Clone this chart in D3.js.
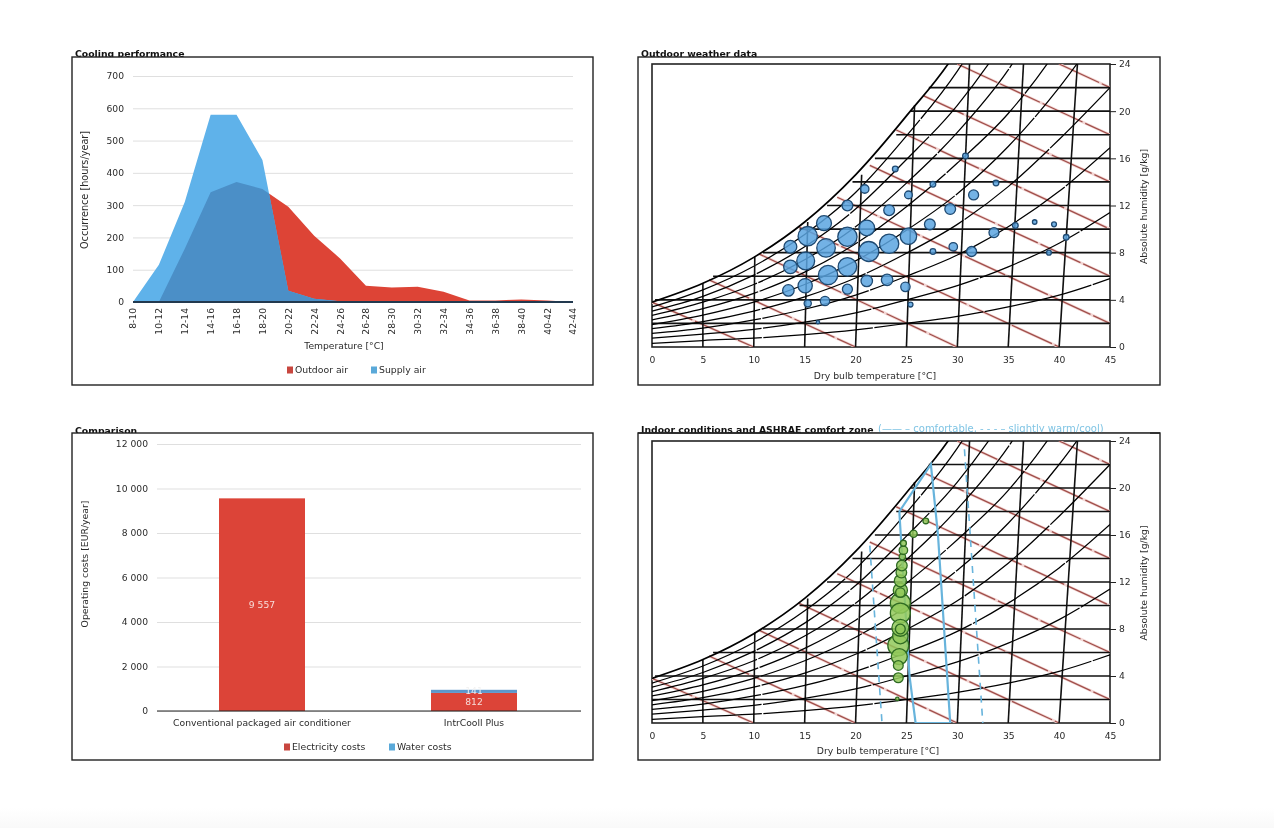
<!DOCTYPE html>
<html>
<head>
<meta charset="utf-8">
<script src="https://d3js.org/d3.v7.min.js"></script>
<style>
    html, body { margin: 0; padding: 0; background: #fff; }
    #fade { position: absolute; left: 0; top: 808px; width: 1274px; height: 20px;
            background: linear-gradient(#ffffff, #f9f9f9); }
    svg { position: absolute; left: 0; top: 0; filter: blur(0.55px); }
    text { font-family: "DejaVu Sans", sans-serif; font-size: 9.2px; fill: #2b2b2b; }
    .title { font-weight: bold; font-size: 9.3px; fill: #111; text-decoration: underline; }
    .frame { fill: #fff; stroke: #222; stroke-width: 1.4; }
    .grid line { stroke: #dfdfdf; }
    .grid path { display: none; }
</style>
</head>
<body>
<div id="fade"></div>
<svg id="chart" width="1274" height="828"></svg>
<script>
var svg = d3.select("#chart");

// Cooling performance
var tempBins = ["8-10", "10-12", "12-14", "14-16", "16-18", "18-20", "20-22", "22-24", "24-26",
    "26-28", "28-30", "30-32", "32-34", "34-36", "36-38", "38-40", "40-42", "42-44"];
var outdoorAir = [0, 0, 165, 340, 372, 350, 295, 205, 135, 50, 45, 47, 32, 5, 5, 8, 5, 0];
var supplyAir = [0, 115, 310, 580, 580, 440, 35, 10, 2, 0, 0, 0, 0, 0, 0, 0, 0, 0];

// Comparison
var costs = [
    {name: "Conventional packaged air conditioner", electricity: 9557, water: 0},
    {name: "IntrCooll Plus", electricity: 812, water: 141}
];

// Psychrometric chart lines, absolute humidity at T = 0, 5, 10 ... 45
var chartTemps = [0, 5, 10, 15, 20, 25, 30, 35, 40, 45];
var saturation = [3.8, 5.4, 7.6, 10.6, 14.6, 19.6, 25.2, 34, 44, 56];
var rhCurves = [
    [3.4, 4.85, 6.85, 9.55, 13.1, 17.9, 23.4, 30.6, 39.6, 50.4],
    [3.05, 4.3, 6.1, 8.5, 11.7, 15.9, 20.5, 26.5, 34, 44],
    [2.67, 3.8, 5.3, 7.4, 10.2, 13.9, 18.2, 23.5, 30.8, 39],
    [2.3, 3.25, 4.55, 6.35, 8.75, 11.9, 15.6, 19.8, 25.5, 33],
    [1.9, 2.7, 3.8, 5.3, 7.3, 9.9, 13, 17, 22, 28],
    [1.55, 2.15, 3.05, 4.25, 5.85, 7.95, 10.4, 13.6, 17.6, 22],
    [1.15, 1.6, 2.3, 3.2, 4.4, 6, 7.8, 10.2, 13.2, 16.9],
    [0.75, 1.1, 1.5, 2.1, 2.9, 4, 5.2, 6.8, 8.8, 11.4],
    [0.3, 0.55, 0.75, 1.05, 1.45, 2, 2.6, 3.4, 4.4, 5.8]
];
// humidity level and the temperature where it leaves the saturation curve
var humidityLines = [[2, 0], [4, 0.3], [6, 6], [8, 10.9], [10, 14.5], [12, 17.2], [14, 19.7],
    [16, 21.9], [18, 24], [20, 25.4], [22, 27.2]];
// [T at w=0, T at the top end, w at the top end]
var isotherms = [[5, 5, 5.4], [10, 10.1, 7.7], [15, 15.3, 10.6], [20, 20.6, 14.6],
    [25, 25.8, 20.5], [30, 31.2, 24], [35, 36.5, 24], [40, 41.8, 24]];
// red lines, [T start, w start, T end, w end]
var enthalpyLines = [[0, 3.8, 10, 0], [5.6, 5.7, 20, 0], [10.5, 7.9, 30, 0], [14.4, 10.2, 40, 0],
    [18.2, 12.7, 45, 2], [21.4, 15.4, 45, 6], [24, 18.4, 45, 10], [26.7, 21.3, 45, 14],
    [30, 24, 45, 18], [40, 24, 45, 22]];

// [T, w, hours]
var outdoorPoints = [[23.9, 15.1, 8], [30.8, 16.2, 8], [20.9, 13.4, 18], [25.2, 12.9, 15], [27.6, 13.8, 8],
    [33.8, 13.9, 8], [31.6, 12.9, 25], [19.2, 12, 29], [23.3, 11.6, 29], [29.3, 11.7, 29],
    [37.6, 10.6, 5], [39.5, 10.4, 6], [35.7, 10.3, 8], [16.9, 10.5, 56], [21.1, 10.1, 62],
    [27.3, 10.4, 29], [33.6, 9.7, 25], [40.7, 9.3, 8], [15.3, 9.4, 93], [19.2, 9.35, 93],
    [25.2, 9.4, 67], [13.6, 8.5, 41], [17.1, 8.4, 86], [23.3, 8.75, 93], [29.6, 8.5, 18],
    [27.6, 8.1, 8], [31.4, 8.1, 25], [39, 8, 6], [21.3, 8.1, 100], [15.1, 7.3, 80],
    [13.6, 6.8, 46], [19.2, 6.8, 86], [17.3, 6.1, 93], [21.1, 5.6, 33], [23.1, 5.7, 33],
    [24.9, 5.1, 22], [15.05, 5.2, 51], [13.4, 4.8, 33], [19.2, 4.9, 25], [15.3, 3.7, 13],
    [17, 3.9, 22], [25.4, 3.6, 6], [16.3, 2.1, 3]];
var indoorPoints = [[24.4, 10.2, 100], [24.4, 9.35, 100], [24.2, 6.6, 110], [24.4, 7.4, 60], [24.4, 8.1, 71],
    [24.3, 5.65, 64], [24.4, 11.3, 50], [24.4, 11.1, 22], [24.4, 8, 24], [24.4, 12.1, 36], [24.5, 12.8, 28],
    [24.55, 13.4, 28], [24.6, 14.15, 10], [24.7, 14.7, 18], [24.7, 15.3, 9], [24.2, 4.9, 24],
    [24.2, 3.85, 24], [24.1, 2.05, 3], [25.7, 16.1, 13], [26.9, 17.2, 8]];

var comfortSolid = [[24.3, 18], [25.3, 4], [25.9, 0], [29.3, 0], [28.1, 16], [27.4, 22], [24.3, 18]];
var comfortDashLeft = [[21.4, 15.1], [22.6, 0]];
var comfortDashRight = [[30.7, 23.3], [32.5, 0]];

function panelFrame(x0, y0, titleText, titleY) {
    svg.append("text").attr("class", "title").attr("x", x0 + 3).attr("y", titleY).text(titleText);
    svg.append("rect").attr("class", "frame")
        .attr("x", x0).attr("y", y0).attr("width", x0 < 600 ? 521 : 522).attr("height", y0 < 200 ? 328 : 327);
}

function legendItem(x, y, color, label) {
    svg.append("rect").attr("x", x).attr("y", y - 3.5).attr("width", 6).attr("height", 7).attr("fill", color);
    svg.append("text").attr("x", x + 8).attr("y", y + 3.2).style("font-size", "9.3px").text(label);
}

function rotatedLabel(x, y, label, size) {
    svg.append("text").attr("transform", "translate(" + x + "," + y + ") rotate(-90)")
        .attr("text-anchor", "middle").style("font-size", (size || 9.3) + "px").text(label);
}

function drawCooling() {
    panelFrame(72, 57, "Cooling performance", 57);

    var x = d3.scalePoint().domain(tempBins).range([133, 573]);
    var y = d3.scaleLinear().domain([0, 700]).range([302, 76]);

    var grid = svg.append("g").attr("class", "grid").attr("transform", "translate(133,0)")
        .call(d3.axisLeft(y).tickValues(d3.range(0, 701, 100)).tickSize(-440).tickPadding(9));
    grid.selectAll("text").style("fill", "#2b2b2b").style("font-size", "9.2px").style("font-family", "DejaVu Sans");

    var area = d3.area()
        .x(function(d, i) { return x(tempBins[i]); })
        .y0(y(0))
        .y1(function(d) { return y(d); });

    svg.append("clipPath").attr("id", "supply-clip").append("path").attr("d", area(supplyAir));
    svg.append("path").attr("d", area(outdoorAir)).attr("fill", "#dd4436");
    svg.append("path").attr("d", area(supplyAir)).attr("fill", "#5fb2ea");
    // overlap of both series
    svg.append("path").attr("d", area(outdoorAir)).attr("fill", "#4b8fc7").attr("clip-path", "url(#supply-clip)");

    svg.append("line").attr("x1", 133).attr("x2", 573).attr("y1", y(0)).attr("y2", y(0))
        .attr("stroke", "#22394f").attr("stroke-width", 2);

    var xAxis = svg.append("g").attr("transform", "translate(0,302)").call(d3.axisBottom(x).tickSize(0));
    xAxis.select("path").remove();
    xAxis.selectAll("text")
        .style("font-size", "9.2px").style("font-family", "DejaVu Sans").style("text-anchor", "end")
        .attr("transform", "rotate(-90)")
        .attr("x", -6).attr("y", 0).attr("dy", "0.32em");

    svg.append("text").attr("x", 344).attr("y", 349).attr("text-anchor", "middle").text("Temperature [°C]");
    rotatedLabel(88, 190, "Occurrence [hours/year]", 9.7);
    legendItem(287, 370, "#c8463f", "Outdoor air");
    legendItem(371, 370, "#5aa9d9", "Supply air");
}

function drawComparison() {
    panelFrame(72, 433, "Comparison", 433.5);

    var locale = d3.formatLocale({decimal: ".", thousands: " ", grouping: [3], currency: ["", ""]});
    var fmt = locale.format(",d");

    var x = d3.scaleBand().domain(costs.map(function(d) { return d.name; })).range([156, 580]);
    var y = d3.scaleLinear().domain([0, 12000]).range([711, 444]);
    var barWidth = 86;

    var grid = svg.append("g").attr("class", "grid").attr("transform", "translate(157,0)")
        .call(d3.axisLeft(y).tickValues(d3.range(0, 12001, 2000)).tickSize(-424).tickPadding(9).tickFormat(fmt));
    grid.selectAll("text").style("fill", "#2b2b2b").style("font-size", "9.2px").style("font-family", "DejaVu Sans");

    var bars = svg.selectAll(".bar").data(costs).enter().append("g").attr("class", "bar");
    function barX(d) { return x(d.name) + x.bandwidth() / 2 - barWidth / 2; }
    function midX(d) { return x(d.name) + x.bandwidth() / 2; }

    bars.append("rect")
        .attr("x", barX).attr("width", barWidth)
        .attr("y", function(d) { return y(d.electricity); })
        .attr("height", function(d) { return y(0) - y(d.electricity); })
        .attr("fill", "#dc4438");
    bars.append("rect")
        .attr("x", barX).attr("width", barWidth)
        .attr("y", function(d) { return y(d.electricity + d.water); })
        .attr("height", function(d) { return y(d.electricity) - y(d.electricity + d.water); })
        .attr("fill", "#5d97cb");

    bars.append("text")
        .attr("x", midX)
        .attr("y", function(d) { return y(d.electricity / 2) + 3; })
        .attr("text-anchor", "middle").style("fill", "#f6dcd8")
        .text(function(d) { return fmt(d.electricity); });
    bars.filter(function(d) { return d.water > 0; }).append("text")
        .attr("x", midX)
        .attr("y", function(d) { return y(d.electricity + d.water / 2) + 3; })
        .attr("text-anchor", "middle").style("fill", "#f2f2f2")
        .text(function(d) { return fmt(d.water); });

    svg.append("line").attr("x1", 157).attr("x2", 581).attr("y1", y(0)).attr("y2", y(0))
        .attr("stroke", "#222").attr("stroke-width", 1);

    svg.selectAll(".barlabel").data(costs).enter().append("text")
        .attr("x", midX).attr("y", 726).attr("text-anchor", "middle")
        .text(function(d) { return d.name; });

    rotatedLabel(88, 564, "Operating costs [EUR/year]");
    legendItem(284, 747, "#c8463f", "Electricity costs");
    legendItem(389, 747, "#5aa9d9", "Water costs");
}

function drawPsychro(id, top, bottom, points, fill, stroke, sizeMax, titleX, titleLabelY) {
    var x = d3.scaleLinear().domain([0, 45]).range([652, 1110]);
    var y = d3.scaleLinear().domain([0, 24]).range([bottom, top]);
    var r = d3.scaleSqrt().domain([0, 100]).range([0, sizeMax]);
    var g = svg.append("g");

    g.append("rect").attr("x", x(0)).attr("y", y(24)).attr("width", x(45) - x(0)).attr("height", y(0) - y(24))
        .attr("fill", "none").attr("stroke", "#222").attr("stroke-width", 1.6);

    g.append("clipPath").attr("id", id).append("rect")
        .attr("x", x(0)).attr("y", y(24)).attr("width", x(45) - x(0)).attr("height", y(0) - y(24));
    var inner = g.append("g").attr("clip-path", "url(#" + id + ")");

    var curve = d3.line()
        .x(function(d, i) { return x(chartTemps[i]); })
        .y(function(d) { return y(d); })
        .curve(d3.curveMonotoneX);

    // red lines go under the black net
    inner.selectAll(".enthalpy").data(enthalpyLines).enter().append("line")
        .attr("x1", function(d) { return x(d[0]); }).attr("y1", function(d) { return y(d[1]); })
        .attr("x2", function(d) { return x(d[2]); }).attr("y2", function(d) { return y(d[3]); })
        .attr("stroke", "#f3d6d4").attr("stroke-width", 2.8);
    inner.selectAll(".enthalpy2").data(enthalpyLines).enter().append("line")
        .attr("x1", function(d) { return x(d[0]); }).attr("y1", function(d) { return y(d[1]); })
        .attr("x2", function(d) { return x(d[2]); }).attr("y2", function(d) { return y(d[3]); })
        .attr("stroke", "#a04f4b").attr("stroke-width", 1.3).attr("stroke-dasharray", "44 3");

    inner.selectAll(".humidity").data(humidityLines).enter().append("line")
        .attr("x1", function(d) { return x(d[1]); }).attr("x2", x(45))
        .attr("y1", function(d) { return y(d[0]); }).attr("y2", function(d) { return y(d[0]); })
        .attr("stroke", "#111").attr("stroke-width", 1.6);

    inner.selectAll(".isotherm").data(isotherms).enter().append("line")
        .attr("x1", function(d) { return x(d[0]); }).attr("y1", y(0))
        .attr("x2", function(d) { return x(d[1]); }).attr("y2", function(d) { return y(d[2]); })
        .attr("stroke", "#111").attr("stroke-width", 1.6);

    inner.selectAll(".rh").data(rhCurves).enter().append("path")
        .attr("d", curve).attr("fill", "none")
        .attr("stroke", "#000").attr("stroke-width", 1.25)
        .attr("stroke-dasharray", "110 1.5");
    inner.append("path").attr("d", curve(saturation)).attr("fill", "none")
        .attr("stroke", "#000").attr("stroke-width", 1.7);

    if (id === "indoor-clip") {
        var pairLine = d3.line()
            .x(function(d) { return x(d[0]); })
            .y(function(d) { return y(d[1]); });
        inner.append("path").attr("d", pairLine(comfortSolid)).attr("fill", "none")
            .attr("stroke", "#68b4dc").attr("stroke-width", 2.2);
        inner.selectAll(".dashzone").data([comfortDashLeft, comfortDashRight]).enter().append("path")
            .attr("d", pairLine).attr("fill", "none")
            .attr("stroke", "#68b4dc").attr("stroke-width", 1.6).attr("stroke-dasharray", "7 6");
    }

    inner.selectAll(".bubble").data(points).enter().append("circle")
        .attr("cx", function(d) { return x(d[0]); })
        .attr("cy", function(d) { return y(d[1]); })
        .attr("r", function(d) { return r(d[2]); })
        .attr("fill", fill).attr("fill-opacity", 0.85)
        .attr("stroke", stroke).attr("stroke-width", 1.3);

    var xAxis = g.append("g").attr("transform", "translate(0," + bottom + ")")
        .call(d3.axisBottom(x).tickValues(d3.range(0, 46, 5)).tickSize(0).tickPadding(9));
    xAxis.select("path").remove();
    xAxis.selectAll("text").style("font-size", "9.2px").style("font-family", "DejaVu Sans");

    var yAxis = g.append("g").attr("transform", "translate(1110,0)")
        .call(d3.axisRight(y).tickValues(d3.range(0, 25, 4)).tickSize(6).tickPadding(3));
    yAxis.select("path").remove();
    yAxis.selectAll("line").attr("stroke", "#222");
    yAxis.selectAll("text").style("font-size", "9.2px").style("font-family", "DejaVu Sans");

    svg.append("text").attr("x", titleX).attr("y", titleLabelY).attr("text-anchor", "middle")
        .style("font-size", "9.3px").text("Dry bulb temperature [°C]");
    rotatedLabel(1147, (top + bottom) / 2 + 1, "Absolute humidity [g/kg]");
}

drawCooling();
drawComparison();

panelFrame(638, 57, "Outdoor weather data", 57);
drawPsychro("outdoor-clip", 64, 347, outdoorPoints, "#5aa5e0", "#1f4a72", 10, 875, 379);

panelFrame(638, 433, "Indoor conditions and ASHRAE comfort zone", 433);
svg.append("text").attr("x", 878).attr("y", 432).style("font-size", "10px").style("fill", "#7fc4e4")
    .text("(—— – comfortable, - - - – slightly warm/cool)");
svg.append("rect").attr("x", 860).attr("y", 432.4).attr("width", 290).attr("height", 6).attr("fill", "#fff");
svg.append("line").attr("x1", 638).attr("x2", 1160).attr("y1", 433).attr("y2", 433).attr("stroke", "#222").attr("stroke-width", 1.4);
drawPsychro("indoor-clip", 441, 723, indoorPoints, "#92c95a", "#2f6b22", 10, 878, 754);
</script>
</body>
</html>
